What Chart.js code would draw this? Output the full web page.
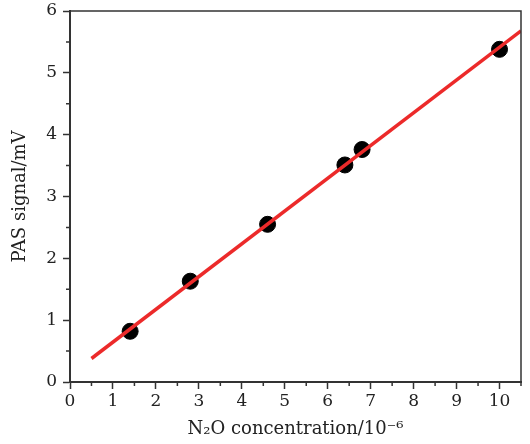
<!DOCTYPE html>
<html><head><meta charset="utf-8">
<script src="https://cdn.jsdelivr.net/npm/chart.js@4"></script>
<style>html,body{margin:0;padding:0;background:#fff}</style>
</head><body>
<canvas id="c" width="530" height="444"></canvas>
<script>
const concentration = [1.4, 2.8, 4.6, 6.4, 6.8, 10.0];
const signal = [0.82, 1.63, 2.55, 3.51, 3.76, 5.38];
const fitX = [0.5, 10.5];
const fitY = [0.38, 5.68];
const xTicks = [0, 1, 2, 3, 4, 5, 6, 7, 8, 9, 10];
const yTicks = [0, 1, 2, 3, 4, 5, 6];
const xMinor = [0.5, 1.5, 2.5, 3.5, 4.5, 5.5, 6.5, 7.5, 8.5, 9.5, 10.5];
const yMinor = [0.5, 1.5, 2.5, 3.5, 4.5, 5.5];

const axisColor = '#333';
const tickFont = {family: '"DejaVu Serif", "Liberation Serif", serif', size: 17};
const titleFont = {family: '"DejaVu Serif", "Liberation Serif", serif', size: 18};

const framePlugin = {
  id: 'frame',
  afterDraw(chart) {
    const {ctx, chartArea: a, scales} = chart;
    ctx.save();
    ctx.strokeStyle = axisColor;
    ctx.lineWidth = 1.5;
    ctx.beginPath();
    ctx.moveTo(a.left, a.top); ctx.lineTo(a.right, a.top); ctx.lineTo(a.right, a.bottom);
    ctx.stroke();
    ctx.beginPath();
    xMinor.forEach(v => {
      const px = scales.x.getPixelForValue(v);
      ctx.moveTo(px, a.bottom); ctx.lineTo(px, a.bottom + 4);
    });
    yMinor.forEach(v => {
      const py = scales.y.getPixelForValue(v);
      ctx.moveTo(a.left, py); ctx.lineTo(a.left - 4, py);
    });
    ctx.stroke();
    ctx.restore();
  }
};

new Chart(document.getElementById('c'), {
  data: {
    datasets: [
      {
        type: 'line',
        data: fitX.map((x, i) => ({x, y: fitY[i]})),
        borderColor: '#ec2a2a',
        borderWidth: 3.5,
        pointRadius: 0,
        fill: false
      },
      {
        type: 'scatter',
        data: concentration.map((x, i) => ({x, y: signal[i]})),
        backgroundColor: '#000',
        borderColor: '#000',
        pointRadius: 8,
        pointHoverRadius: 8
      }
    ]
  },
  options: {
    responsive: false,
    devicePixelRatio: 1,
    animation: false,
    layout: {padding: {top: 11, right: 7, left: 0, bottom: 0}},
    plugins: {legend: {display: false}, tooltip: {enabled: false}},
    scales: {
      x: {
        type: 'linear', min: 0, max: 10.5,
        afterBuildTicks: s => { s.ticks = xTicks.map(v => ({value: v})); },
        afterFit: s => { s.height = 62; s.paddingLeft = 0; s.paddingRight = 0; },
        ticks: {color: '#222', font: tickFont, padding: 2, maxRotation: 0},
        grid: {drawOnChartArea: false, tickLength: 7, tickWidth: 1.5, tickColor: axisColor},
        border: {color: axisColor, width: 2},
        title: {display: true, text: 'N₂O concentration/10⁻⁶', color: '#222', font: titleFont, padding: {top: 2, bottom: 4}}
      },
      y: {
        type: 'linear', min: 0, max: 6,
        afterBuildTicks: s => { s.ticks = yTicks.map(v => ({value: v})); },
        afterFit: s => { s.width = 70; s.paddingTop = 0; s.paddingBottom = 0; },
        ticks: {color: '#222', font: tickFont, padding: 6},
        grid: {drawOnChartArea: false, tickLength: 7, tickWidth: 1.5, tickColor: axisColor},
        border: {color: axisColor, width: 2},
        title: {display: true, text: 'PAS signal/mV', color: '#222', font: titleFont, padding: {top: 10, bottom: 4}}
      }
    }
  },
  plugins: [framePlugin]
});
</script>
</body></html>
